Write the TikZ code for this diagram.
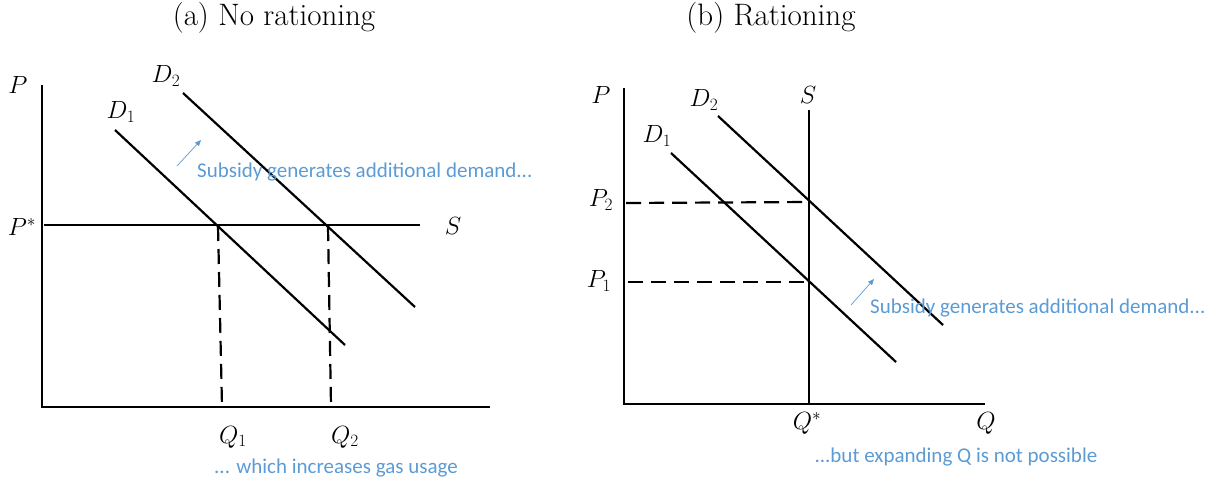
\documentclass[tikz,border=0pt]{standalone}
\usepackage{fontspec}
\newfontfamily\notefont{Carlito}
\usetikzlibrary{arrows.meta}
\definecolor{noteblue}{RGB}{91,155,213}
\begin{document}
\begin{tikzpicture}[x=1pt,y=-1pt,
  axisline/.style={line width=2.4pt},
  curveline/.style={line width=2.2pt},
  dashline/.style={line width=2.2pt,dash pattern=on 15pt off 8pt},
  lab/.style={font=\fontsize{24}{28}\selectfont, inner sep=0pt},
  ttl/.style={font=\fontsize{31}{36}\selectfont, inner sep=0pt},
  note/.style={text=noteblue, font=\notefont\fontsize{21}{24}\selectfont, inner sep=0pt},
  notearrow/.style={draw=noteblue, line width=0.7pt, -{Triangle[length=6pt,width=5pt]}}]
\useasboundingbox (0,0) rectangle (1210,483);
% ---------------- panel (a)
\node[ttl] (ta) at (274,18) {(a) No rationing};
\coordinate (aO) at (42,407);
\coordinate (aTop) at (42,85);
\coordinate (aEnd) at (490,407);
\draw[axisline] (aTop) -- (aO) -- (aEnd);
\coordinate (aS0) at (44,225);
\coordinate (aS1) at (420,225);
\draw[curveline] (aS0) -- (aS1);
\coordinate (aD1a) at (115,130);
\coordinate (aD1b) at (345,345);
\coordinate (aD2a) at (183,93);
\coordinate (aD2b) at (415,307);
\draw[curveline] (aD1a) -- (aD1b);
\draw[curveline] (aD2a) -- (aD2b);
\coordinate (aE1) at (218,226);
\coordinate (aE2) at (328,226);
\coordinate (aQ1) at (222,406);
\coordinate (aQ2) at (331,406);
\draw[dashline] (aE1) -- (aQ1);
\draw[dashline] (aE2) -- (aQ2);
\node[lab] (aP) at (18,85) {$P$};
\node[lab] (aPs) at (22,227) {$P^*$};
\node[lab] (aSl) at (453,226) {$S$};
\node[lab] (aD1l) at (121,112) {$D_1$};
\node[lab] (aD2l) at (166,76) {$D_2$};
\node[lab] (aQ1l) at (233,437) {$Q_1$};
\node[lab] (aQ2l) at (345,437) {$Q_2$};
\coordinate (aAr0) at (177,166);
\coordinate (aAr1) at (201,140);
\draw[notearrow] (aAr0) -- (aAr1);
\node[note,anchor=west] (aN1) at (197,172) {Subsidy generates additional demand...};
\node[note] (aN2) at (336,468) {... which increases gas usage};
% ---------------- panel (b)
\node[ttl] (tb) at (771,18) {(b) Rationing};
\coordinate (bO) at (624,404);
\coordinate (bTop) at (624,88);
\coordinate (bEnd) at (985,404);
\draw[axisline] (bTop) -- (bO) -- (bEnd);
\coordinate (bS0) at (809,110);
\coordinate (bS1) at (809,404);
\draw[axisline] (bS0) -- (bS1);
\coordinate (bD2a) at (718,116);
\coordinate (bD2b) at (943,325);
\coordinate (bD1a) at (671,153);
\coordinate (bD1b) at (896,362);
\draw[curveline] (bD1a) -- (bD1b);
\draw[curveline] (bD2a) -- (bD2b);
\coordinate (bP2a) at (626,203);
\coordinate (bP2b) at (809,202);
\coordinate (bP1a) at (628,282);
\coordinate (bP1b) at (809,282);
\draw[dashline] (bP2a) -- (bP2b);
\draw[dashline] (bP1a) -- (bP1b);
\node[lab] (bP) at (601,95) {$P$};
\node[lab] (bSl) at (808,95) {$S$};
\node[lab] (bD2l) at (704,100) {$D_2$};
\node[lab] (bD1l) at (657,136) {$D_1$};
\node[lab] (bP2l) at (601,200) {$P_2$};
\node[lab] (bP1l) at (599,281) {$P_1$};
\node[lab] (bQs) at (807,423) {$Q^*$};
\node[lab] (bQ) at (986,423) {$Q$};
\coordinate (bAr0) at (851,305);
\coordinate (bAr1) at (874,279);
\draw[notearrow] (bAr0) -- (bAr1);
\node[note,anchor=west] (bN1) at (870,308) {Subsidy generates additional demand...};
\node[note] (bN2) at (956,457) {...but expanding Q is not possible};
\end{tikzpicture}
\end{document}
